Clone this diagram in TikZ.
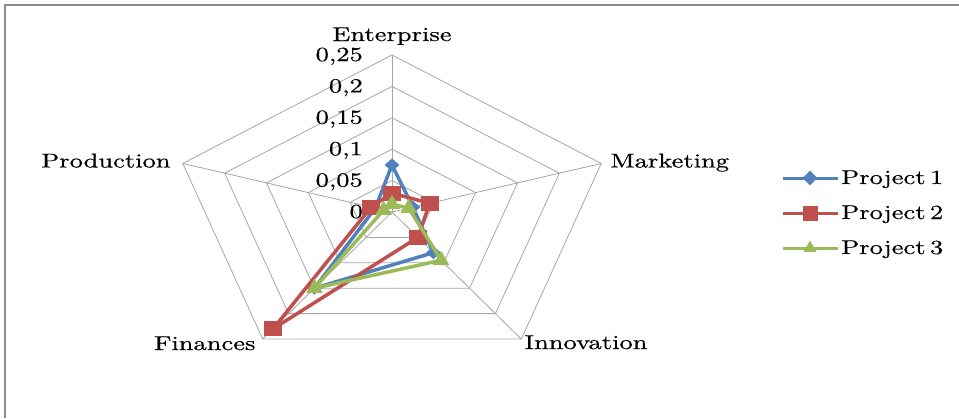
\documentclass[tikz,border=0pt]{standalone}
\usepackage{graphicx}
\usepackage{fontspec}
\usetikzlibrary{shapes.geometric}

\newfontfamily\chartfont{Latin Modern Roman}[FakeBold=0.5]

\definecolor{serblue}{HTML}{4F81BD}
\definecolor{serred}{HTML}{C0504D}
\definecolor{sergreen}{HTML}{9BBB59}
\definecolor{gridgray}{HTML}{A6A6A6}
\definecolor{framegray}{HTML}{8C8C8C}

\newcommand{\xwide}[1]{\scalebox{2.65}[2.0]{#1}}

\tikzset{
  lbl/.style={font=\chartfont\fontsize{10}{12}\selectfont, inner sep=0pt},
  ring/.style={draw=gridgray, line width=0.8pt},
  serline/.style={line width=3.5pt, line join=round},
  legline/.style={line width=3pt},
  dmark/.style={diamond, fill=serblue, inner sep=0pt, minimum width=15pt, minimum height=13pt},
  smark/.style={rectangle, fill=serred, inner sep=0pt, minimum width=18pt, minimum height=15pt},
  tmark/.style={regular polygon, regular polygon sides=3, fill=sergreen, inner sep=0pt, minimum size=19pt},
}

\begin{document}
\begin{tikzpicture}[x=1pt, y=-1pt]
	\useasboundingbox (0,0) rectangle (959,418);
	% frame
	\coordinate (fbl) at (5,418);
	\coordinate (ftl) at (5,5);
	\coordinate (ftr) at (959,5);
	\draw[framegray, line width=1.6pt] (fbl) -- (ftl) -- (ftr);

	\begin{scope}[shift={(392,212)}, x=220pt, y=157pt]
	% grid
	\coordinate (ctr) at (0,0);
	\foreach \k/\n in {0/ent,1/mkt,2/inn,3/fin,4/prd}
		\coordinate (v\n) at (90-72*\k:1);
	\foreach \r in {0.2,0.4,0.6,0.8,1}
		\draw[ring] (90:\r) -- (18:\r) -- (-54:\r) -- (-126:\r) -- (162:\r) -- cycle;
	\foreach \n in {ent,mkt,inn,fin,prd}
		\draw[ring] (ctr) -- (v\n);
	% scale labels
	\foreach \i/\t in {0/0,1/{0,05},2/{0,1},3/{0,15},4/{0,2},5/{0,25}}
		\node[lbl, anchor=base east, xshift=-29pt, yshift=-6pt] (tick\i) at (0,\i/5) {\xwide{\t}};
	% axis names
	\node[lbl, anchor=base, yshift=14pt] (lent) at (vent) {\xwide{Enterprise}};
	\node[lbl, anchor=base west, xshift=9pt, yshift=-4pt] (lmkt) at (vmkt) {\xwide{Marketing}};
	\node[lbl, anchor=base west, xshift=3pt, yshift=-10pt] (linn) at (vinn) {\xwide{Innovation}};
	\node[lbl, anchor=base east, xshift=-7pt, yshift=-11pt] (lfin) at (vfin) {\xwide{Finances}};
	\node[lbl, anchor=base east, xshift=-12pt, yshift=-4pt] (lprd) at (vprd) {\xwide{Production}};

	% Project 1
	\draw[serline, serblue] (90:0.30) coordinate (a1) -- (18:0.10) coordinate (a2) -- (-54:0.32) coordinate (a3)
		-- (-126:0.60) coordinate (a4) -- (162:0.08) coordinate (a5) -- cycle;
	\foreach \i in {1,...,5}
		\node[dmark] (ma\i) at (a\i) {};
	% Project 2
	\draw[serline, serred] (90:0.12) coordinate (b1) -- (18:0.18) coordinate (b2) -- (-54:0.20) coordinate (b3)
		-- (-126:0.92) coordinate (b4) -- (162:0.10) coordinate (b5) -- cycle;
	\foreach \i in {1,...,5}
		\node[smark] (mb\i) at (b\i) {};
	% Project 3
	\draw[serline, sergreen] (90:0.05) coordinate (c1) -- (18:0.08) coordinate (c2) -- (-54:0.38) coordinate (c3)
		-- (-126:0.60) coordinate (c4) -- (162:0.04) coordinate (c5) -- cycle;
	\foreach \i in {1,...,5}
		\node[tmark] (mc\i) at (c\i) {};
	\end{scope}

	% legend
	\foreach \j/\col/\mk/\yy in {1/serblue/dmark/178,2/serred/smark/213,3/sergreen/tmark/248} {
		\coordinate (la\j) at (783,\yy);
		\coordinate (lb\j) at (838,\yy);
		\draw[legline, \col] (la\j) -- (lb\j);
		\node[\mk, minimum width=14pt, minimum height=12pt, minimum size=15pt] (lm\j) at (810,\yy) {};
		\node[lbl, anchor=base west] (leg\j) at (841,\yy+6) {\xwide{Project\,\j}};
	}
\end{tikzpicture}
\end{document}
